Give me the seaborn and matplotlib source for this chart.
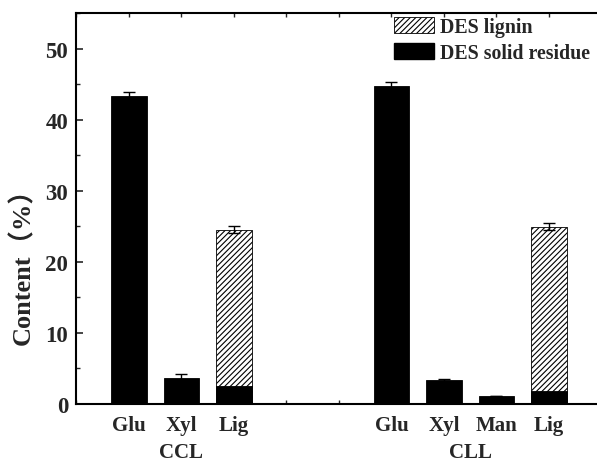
import numpy as np
import pandas as pd
import matplotlib
matplotlib.use("Agg")
import matplotlib.pyplot as plt
import matplotlib.patches as mpatches
from matplotlib.ticker import MultipleLocator
import seaborn as sns

# ---- data ----
positions = [1, 2, 3, 6, 7, 8, 9]
tick_labels = ["Glu", "Xyl", "Lig", "Glu", "Xyl", "Man", "Lig"]
solid_residue = [43.4, 3.6, 2.5, 44.8, 3.3, 1.1, 1.7]
lignin_total = [0, 0, 24.5, 0, 0, 0, 24.9]
errors = [0.55, 0.5, 0.5, 0.5, 0.12, 0.0, 0.5]
group_names = ["CCL", "CLL"]
group_centers = [2, 7.5]

sns.set_theme(style="ticks")
plt.rcParams['font.family'] = ['Liberation Serif', 'Noto Sans CJK SC', 'DejaVu Sans']
plt.rcParams['font.weight'] = 'bold'
plt.rcParams['hatch.linewidth'] = 0.8
plt.rcParams['hatch.color'] = 'black'

fig = plt.figure(figsize=(5.97, 4.64), dpi=100)
ax = fig.add_axes([0.1281, 0.1282, 0.8794, 0.841])

df = pd.DataFrame({"pos": positions, "residue": solid_residue, "lignin": lignin_total})
tops = [max(r, l) for r, l in zip(solid_residue, lignin_total)]

# hatched total lignin bars
sns.barplot(data=df, x="pos", y="lignin", native_scale=True, width=0.68,
            color="white", edgecolor="black", linewidth=0.6, hatch="//////",
            errorbar=None, ax=ax)
# black solid residue bars
sns.barplot(data=df, x="pos", y="residue", native_scale=True, width=0.68,
            color="black", edgecolor="black", linewidth=0.6, saturation=1,
            errorbar=None, ax=ax)

ax.errorbar(positions, tops, yerr=errors, fmt="none", ecolor="black",
            elinewidth=1.0, capsize=4, capthick=1.0)

ax.set_xlim(0, 10)
ax.set_ylim(0, 55)
ax.set_xticks(range(0, 11))
ax.set_xticklabels([tick_labels[positions.index(i)] if i in positions else "" for i in range(0, 11)])
ax.yaxis.set_major_locator(MultipleLocator(10))
ax.yaxis.set_minor_locator(MultipleLocator(5))
ax.tick_params(axis="both", which="both", direction="in", top=True)
ax.tick_params(axis="x", which="major", length=3, width=1, pad=8, labelsize=15)
ax.tick_params(axis="y", which="major", length=5, width=1.2, pad=6, labelsize=16.5)
ax.tick_params(axis="y", which="minor", length=3, width=1)
for lab in ax.get_xticklabels() + ax.get_yticklabels():
    lab.set_fontweight("bold")
for s in ax.spines.values():
    s.set_linewidth(1.5)
    s.set_color("black")

ax.set_xlabel("")
ax.set_ylabel("Content（%）", fontsize=19, fontweight="bold")
ax.yaxis.set_label_coords(-0.078, 0.37)

for name, c in zip(group_names, group_centers):
    ax.text(c, -0.124, name, transform=ax.get_xaxis_transform(), ha="center",
            va="center", fontsize=15, fontweight="bold")

handles = [mpatches.Patch(facecolor="white", edgecolor="black", hatch="//////", linewidth=0.6, label="DES lignin"),
           mpatches.Patch(facecolor="black", edgecolor="black", label="DES solid residue")]
leg = fig.legend(handles=handles, loc="upper left", bbox_to_anchor=(0.66, 0.962),
                 frameon=False, prop={"family": "Liberation Serif", "weight": "bold", "size": 14.3},
                 handlelength=2.0, handleheight=0.85, handletextpad=0.3, labelspacing=0.32,
                 borderaxespad=0, borderpad=0)

fig.savefig("out.png", dpi=100)
